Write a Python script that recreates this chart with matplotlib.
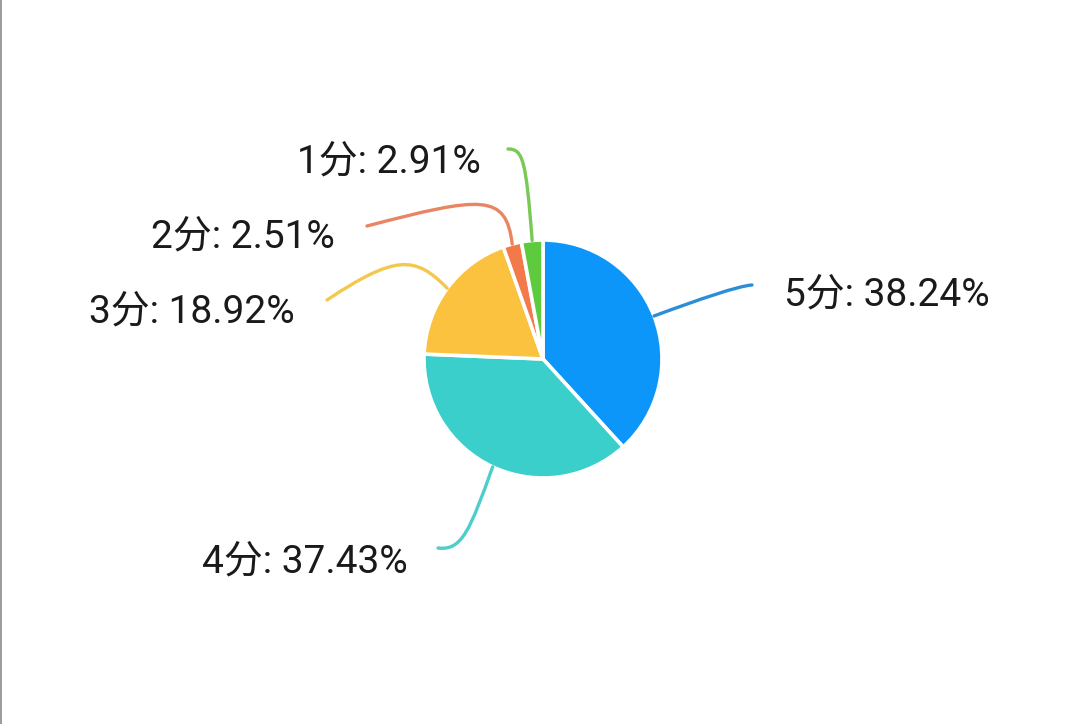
import numpy as np
import matplotlib
matplotlib.use("Agg")
import matplotlib.pyplot as plt
from matplotlib.path import Path
from matplotlib.patches import PathPatch

plt.rcParams['font.family'] = ['Roboto', 'Noto Sans CJK SC', 'DejaVu Sans']

# ---- data ----
categories = ["5分", "4分", "3分", "2分", "1分"]
percents = [38.24, 37.43, 18.92, 2.51, 2.91]
slice_colors = ["#0D96FA", "#3ACFCB", "#FBC23F", "#F3784A", "#5ECB3E"]
line_colors = ["#2C8FD6", "#4CCFCB", "#F2C84E", "#E98563", "#78C955"]

W, H = 1080, 724
fig = plt.figure(figsize=(W / 100, H / 100), dpi=100)
ax = fig.add_axes([0, 0, 1, 1])
ax.set_xlim(0, W)
ax.set_ylim(0, H)
ax.set_aspect('equal')
ax.axis('off')

cx, cy_img, R = 543, 359, 119
cy = H - cy_img

wedges, _ = ax.pie(percents, colors=slice_colors, startangle=90, counterclock=False,
                   center=(cx, cy), radius=R, frame=True,
                   wedgeprops=dict(edgecolor='white', linewidth=2.6))
ax.set_xlim(0, W)
ax.set_ylim(0, H)
ax.axis('off')

# leader layout (image coords: control1, control2, end) and label anchor (left x, center y)
leader_layout = [
    [(700, 299), (738, 286), (752, 285)],
    [(470, 530), (462, 551), (438, 548)],
    [(415, 255), (395, 255), (327, 300)],
    [(506, 193), (482, 196), (367, 226)],
    [(526, 160), (523, 149), (508, 149)],
]
label_pos = [(784, 295), (202, 562), (89, 312), (151, 237), (297, 162)]

for w, lay, lc, cat, pct, lp in zip(wedges, leader_layout, line_colors, categories, percents, label_pos):
    ang = np.deg2rad((w.theta1 + w.theta2) / 2)
    sx = cx + R * np.cos(ang)
    sy = cy + R * np.sin(ang)
    pts = [(sx, sy)] + [(x, H - y) for x, y in lay]
    path = Path(pts, [Path.MOVETO, Path.CURVE4, Path.CURVE4, Path.CURVE4])
    ax.add_patch(PathPatch(path, facecolor='none', edgecolor=lc, linewidth=2.4,
                           capstyle='round', zorder=1))
    ax.text(lp[0], H - lp[1], f"{cat}: {pct:.2f}%", fontsize=28, color='#1a1a1a',
            ha='left', va='center')

# thin left border of the screenshot
ax.plot([0.8, 0.8], [0, H], color='#8a8a8a', linewidth=1.2)

fig.savefig("out.png", dpi=100, facecolor='white')
